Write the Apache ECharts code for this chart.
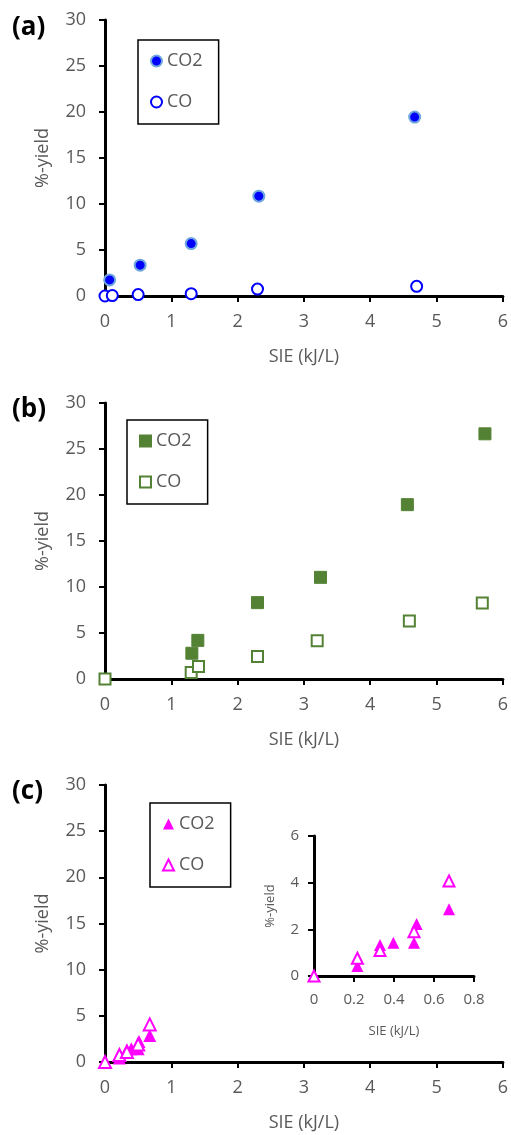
<!DOCTYPE html>
<html><head><meta charset="utf-8">
<script src="https://cdn.jsdelivr.net/npm/echarts@6/dist/echarts.min.js"></script>
<style>html,body{margin:0;padding:0;background:#fff}#c{width:511px;height:1135px}</style>
</head><body><div id="c"></div>
<script>
// Panel (a)
const aCO2x = [0.07, 0.53, 1.30, 2.32, 4.67];
const aCO2y = [1.75, 3.35, 5.70, 10.85, 19.45];
const aCOx  = [0, 0.11, 0.50, 1.30, 2.30, 4.70];
const aCOy  = [0, 0.05, 0.15, 0.25, 0.75, 1.05];
// Panel (b)
const bCO2x = [1.31, 1.40, 2.30, 3.25, 4.56, 5.73];
const bCO2y = [2.80, 4.20, 8.30, 11.05, 18.95, 26.65];
const bCOx  = [0, 1.30, 1.41, 2.30, 3.20, 4.59, 5.69];
const bCOy  = [0, 0.70, 1.35, 2.45, 4.15, 6.30, 8.25];
// Panel (c) (main + inset)
const cCO2x = [0.217, 0.33, 0.397, 0.50, 0.513, 0.675];
const cCO2y = [0.43, 1.33, 1.43, 1.43, 2.23, 2.86];
const cCOx  = [0, 0.217, 0.33, 0.50, 0.675];
const cCOy  = [0, 0.76, 1.09, 1.90, 4.07];
const panelLabels = ['(a)', '(b)', '(c)'];
const xName = 'SIE (kJ/L)';
const yName = '%-yield';

const FONT = 'Open Sans';
const GRAY = '#595959';
const zip = (xs, ys) => xs.map((x, i) => [x, ys[i]]);

function xAx(gi, max, interval, opts) {
  return Object.assign({
    gridIndex: gi, type: 'value', min: 0, max: max, interval: interval,
    name: xName, nameLocation: 'middle', nameGap: 52,
    nameTextStyle: {color: GRAY, fontFamily: FONT, fontSize: 18},
    axisLine: {show: true, onZero: false, lineStyle: {color: '#000', width: 3}},
    axisTick: {show: true, inside: false, length: 6, lineStyle: {color: '#000', width: 2}},
    axisLabel: {color: GRAY, fontFamily: FONT, fontSize: 18, margin: 17},
    splitLine: {show: false}
  }, opts || {});
}
function yAx(gi, max, interval, opts) {
  return Object.assign({
    gridIndex: gi, type: 'value', min: 0, max: max, interval: interval,
    name: yName, nameLocation: 'middle', nameGap: 53, nameRotate: 90,
    nameTextStyle: {color: GRAY, fontFamily: FONT, fontSize: 18},
    axisLine: {show: true, onZero: false, lineStyle: {color: '#000', width: 3}},
    axisTick: {show: true, inside: false, length: 6, lineStyle: {color: '#000', width: 2}},
    axisLabel: {color: GRAY, fontFamily: FONT, fontSize: 18, margin: 19},
    splitLine: {show: false}
  }, opts || {});
}
function legendFor(names, left, top) {
  return {
    data: names, orient: 'vertical', left: left, top: top,
    itemWidth: 11, itemHeight: 11, itemGap: 23,
    padding: [12, 16, 13, 12],
    borderColor: '#000', borderWidth: 1.5,
    formatter: n => n.split('-')[1],
    textStyle: {color: GRAY, fontFamily: FONT, fontSize: 18},
    selectedMode: false
  };
}

const BLUE = '#0000ff', GREEN = '#548235', MAG = '#ff00ff';
const option = {
  animation: false,
  backgroundColor: '#fff',
  grid: [
    {left: 105, top: 20, width: 398, height: 276},
    {left: 105, top: 403, width: 398, height: 276},
    {left: 105, top: 785, width: 398, height: 277},
    {left: 314, top: 836, width: 160, height: 140}
  ],
  xAxis: [
    xAx(0, 6, 1), xAx(1, 6, 1), xAx(2, 6, 1),
    xAx(3, 0.8, 0.2, {nameGap: 49, nameTextStyle: {color: GRAY, fontFamily: FONT, fontSize: 13},
      axisLabel: {color: GRAY, fontFamily: FONT, fontSize: 15, margin: 16}})
  ],
  yAxis: [
    yAx(0, 30, 5), yAx(1, 30, 5), yAx(2, 30, 5),
    yAx(3, 6, 2, {nameGap: 37, nameTextStyle: {color: GRAY, fontFamily: FONT, fontSize: 13},
      axisLabel: {color: GRAY, fontFamily: FONT, fontSize: 15, margin: 15}})
  ],
  legend: [
    legendFor(['a-CO2', 'a-CO'], 138, 40),
    legendFor(['b-CO2', 'b-CO'], 127, 420),
    legendFor(['c-CO2', 'c-CO'], 150, 803)
  ],
  graphic: panelLabels.map((t, i) => ({
    type: 'text', left: 12, top: [15, 397, 779][i],
    style: {text: t, font: 'bold 26px ' + FONT, fill: '#000'}
  })),
  series: [
    {name: 'a-CO2', type: 'scatter', xAxisIndex: 0, yAxisIndex: 0, data: zip(aCO2x, aCO2y),
      symbol: 'circle', symbolSize: 11, itemStyle: {color: BLUE, borderColor: '#6fa8dc', borderWidth: 2, opacity: 1}},
    {name: 'a-CO', type: 'scatter', xAxisIndex: 0, yAxisIndex: 0, data: zip(aCOx, aCOy),
      symbol: 'circle', symbolSize: 11, itemStyle: {color: '#fff', borderColor: BLUE, borderWidth: 2, opacity: 1}},
    {name: 'b-CO2', type: 'scatter', xAxisIndex: 1, yAxisIndex: 1, data: zip(bCO2x, bCO2y),
      symbol: 'rect', symbolSize: 12, itemStyle: {color: GREEN, borderColor: GREEN, borderWidth: 1, opacity: 1}},
    {name: 'b-CO', type: 'scatter', xAxisIndex: 1, yAxisIndex: 1, data: zip(bCOx, bCOy),
      symbol: 'rect', symbolSize: 11, itemStyle: {color: '#fff', borderColor: GREEN, borderWidth: 2, opacity: 1}},
    {name: 'c-CO2', type: 'scatter', xAxisIndex: 2, yAxisIndex: 2, data: zip(cCO2x, cCO2y),
      symbol: 'triangle', symbolSize: 13, itemStyle: {color: MAG, opacity: 1}},
    {name: 'c-CO', type: 'scatter', xAxisIndex: 2, yAxisIndex: 2, data: zip(cCOx, cCOy),
      symbol: 'triangle', symbolSize: 12, itemStyle: {color: '#fff', borderColor: MAG, borderWidth: 2, opacity: 1}},
    {name: 'i-CO2', type: 'scatter', xAxisIndex: 3, yAxisIndex: 3, data: zip(cCO2x, cCO2y),
      symbol: 'triangle', symbolSize: 12, itemStyle: {color: MAG, opacity: 1}},
    {name: 'i-CO', type: 'scatter', xAxisIndex: 3, yAxisIndex: 3, data: zip(cCOx, cCOy),
      symbol: 'triangle', symbolSize: 11, itemStyle: {color: '#fff', borderColor: MAG, borderWidth: 2, opacity: 1}}
  ]
};
const chart = echarts.init(document.getElementById('c'), null, {renderer: 'canvas'});
chart.setOption(option);
</script></body></html>
